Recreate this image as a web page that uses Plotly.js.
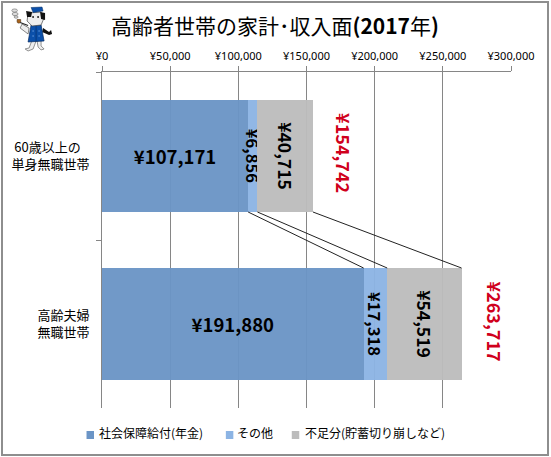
<!DOCTYPE html>
<html><head><meta charset="utf-8">
<script src="https://cdn.plot.ly/plotly-3.0.0.min.js"></script>
<style>html,body{margin:0;padding:0;background:#fff;overflow:hidden}
#wrap{position:relative;width:551px;height:457px}
#frame{position:absolute;left:1px;top:1px;width:544px;height:451px;border:2px solid #8e8e8e;pointer-events:none;z-index:5}
#chart{position:absolute;left:0;top:0}</style>
</head><body><div id="wrap"><div id="frame"></div><div id="chart"></div></div>
<script>
const categories = ["60歳以上の<br>単身無職世帯", "高齢夫婦<br>無職世帯"];
const seriesNames = ["社会保障給付(年金)", "その他", "不足分(貯蓄切り崩しなど)"];
const pension = [107171, 191880];
const other = [6856, 17318];
const shortfall = [40715, 54519];
const totals = [154742, 263717];
const colors = ["#6b95c6", "#8cb4e4", "#bcbcbc"];
const FONT = '"Noto Sans CJK JP","Noto Sans",sans-serif';
const yen = v => "¥" + v.toLocaleString("en-US");
const series = [pension, other, shortfall];
const labelFont = [18.5, 16.5, 17.5];
const angles = [0, 90, 90];
// first label line sits centred over the second in the reference
const yLabels = categories.map((c, i) => i === 0 ? c.replace("<br>", "\u00A0\u00A0\u00A0<br>") : c);
const traces = series.map((vals, i) => ({
  type: "bar", orientation: "h", name: seriesNames[i], x: vals, y: yLabels,
  marker: {color: colors[i], line: {width: 0}, opacity: 0.96},
  text: vals.map(yen), textposition: "inside", insidetextanchor: "middle",
  textangle: angles[i], constraintext: "none", cliponaxis: false,
  textfont: {family: FONT, size: labelFont[i], color: "#000", weight: 700},
  hoverinfo: "skip", showlegend: false
}));
const gap = 1/3, halfBar = (1 - gap) / 2;
const shapes = [];
series.forEach((_, i) => {
  const cum = k => series.slice(0, i + 1).reduce((s, a) => s + a[k], 0);
  shapes.push({type: "line", xref: "x", yref: "y", x0: cum(0), x1: cum(1),
    y0: 0 + halfBar, y1: 1 - halfBar, line: {color: "#222", width: 1}});
});
const W = 551, H = 457, L = 102, T = 72, PW = 409.5, PH = 336;
const px = x => (x - L) / PW, py = y => (T + PH - y) / PH;
const legendX = [86.5, 226, 292], legendTextX = [97, 235, 303];
legendX.forEach((x, i) => shapes.push({type: "rect", xref: "paper", yref: "paper",
  x0: px(x), x1: px(x + 7.5), y0: py(439), y1: py(431), fillcolor: colors[i], line: {width: 0}}));
const annotations = [];
totals.forEach((t, i) => annotations.push({x: t, y: yLabels[i], xref: "x", yref: "y",
  text: yen(t), showarrow: false, textangle: 90, xshift: i ? 33 : 31, yshift: 3,
  font: {family: FONT, size: 18, color: "#d0001c", weight: 700}}));
seriesNames.forEach((n, i) => annotations.push({xref: "paper", yref: "paper",
  x: px(legendTextX[i]), y: py(432), xanchor: "left", yanchor: "middle",
  text: n, showarrow: false, font: {family: FONT, size: 12, color: "#000"}}));
annotations.push({xref: "paper", yref: "paper", x: px(275.5), y: py(25),
  xanchor: "center", yanchor: "middle", showarrow: false,
  text: "高齢者世帯の家計･収入面<b>(2017</b>年<b>)</b>", font: {family: FONT, size: 21, color: "#000"}});
const mascot = `<svg xmlns="http://www.w3.org/2000/svg" viewBox="0 0 50 50" width="150" height="150">
<ellipse cx="6.5" cy="6.5" rx="2.8" ry="1.6" fill="#ddd" stroke="#666" stroke-width=".6"/>
<ellipse cx="7" cy="10" rx="3" ry="1.6" fill="#ddd" stroke="#666" stroke-width=".6"/>
<ellipse cx="8" cy="13" rx="2" ry="1.2" fill="#ddd" stroke="#666" stroke-width=".6"/>
<path d="M20 30 L12 24 L14 20 L21 24 Z" fill="#eee" stroke="#555" stroke-width=".7"/>
<path d="M9 15.5 h3.6 v2.6 l-1 1 h-1.8 l-.8-1 Z" fill="#a8641e" stroke="#3a2208" stroke-width=".5"/>
<path d="M12 18.5 L20 21.5" stroke="#222" stroke-width="1.1"/>
<path d="M35 24 L41 28 L43 26 L44 30 L41 31 L34 28 Z" fill="#111"/>
<path d="M24 36 L21 44 L17 45 L20 47 L25 45 L28 37 Z" fill="#eee" stroke="#666" stroke-width=".7"/>
<path d="M29 37 L30 43 L33 46 L36 45 L33 42 L33 36 Z" fill="#eee" stroke="#666" stroke-width=".7"/>
<path d="M23 21 L33 21 L36 37 L20 38 Z" fill="#0b50aa" stroke="#052a60" stroke-width=".7"/>
<path d="M28 22 V37" stroke="#052a60" stroke-width=".6"/>
<g fill="#6ea0e0"><circle cx="25" cy="27" r=".7"/><circle cx="31" cy="27" r=".7"/><circle cx="25" cy="32" r=".7"/><circle cx="31" cy="32" r=".7"/></g>
<path d="M20 9 L33 8 L36 14 L33 21 L24 22 L19 17 Z" fill="#eee" stroke="#444" stroke-width=".7"/>
<path d="M18 7 L24 8 L23 13 L19 13 Z" fill="#111"/>
<path d="M32 8 L37 9 L37 16 L33 15 Z" fill="#111"/>
<path d="M23 3.5 L34 3 L35 7 L25 8.5 Z" fill="#0b50aa" stroke="#052a60" stroke-width=".5"/>
<circle cx="25" cy="13" r=".9" fill="#111"/><circle cx="30" cy="13" r=".9" fill="#111"/>
</svg>`;
const layout = {
  width: W, height: H, autosize: false, barmode: "stack", bargap: gap, showlegend: false,
  paper_bgcolor: "#fff", plot_bgcolor: "#fff",
  margin: {l: L, r: W - L - PW, t: T, b: H - T - PH, pad: 0},
  font: {family: FONT, color: "#000"},
  xaxis: {side: "top", range: [0, 300000], dtick: 50000, tickprefix: "¥", tickformat: ",d",
    showgrid: true, gridcolor: "#868686", gridwidth: 1, showline: true, linecolor: "#868686", linewidth: 1,
    ticks: "outside", ticklen: 5, tickcolor: "#868686", ticklabelstandoff: 2,
    tickfont: {family: '"Noto Sans",sans-serif', size: 11, color: "#000"}, zeroline: false},
  yaxis: {type: "category", autorange: false, range: [1.5, -0.5], tickson: "boundaries", ticks: "outside", ticklen: 5,
    tickcolor: "#868686", showline: true, linecolor: "#868686", linewidth: 1, showgrid: false, zeroline: false,
    tickfont: {family: FONT, size: 13, color: "#000"}, ticklabelstandoff: 9},
  shapes, annotations,
  images: [{source: "data:image/svg+xml;charset=utf-8," + encodeURIComponent(mascot), xref: "paper", yref: "paper",
    x: px(8), y: py(4), sizex: 50 / PW, sizey: 50 / PH, xanchor: "left", yanchor: "top", layer: "above"}]
};
Plotly.newPlot("chart", traces, layout, {displayModeBar: false, staticPlot: true});
</script></body></html>
